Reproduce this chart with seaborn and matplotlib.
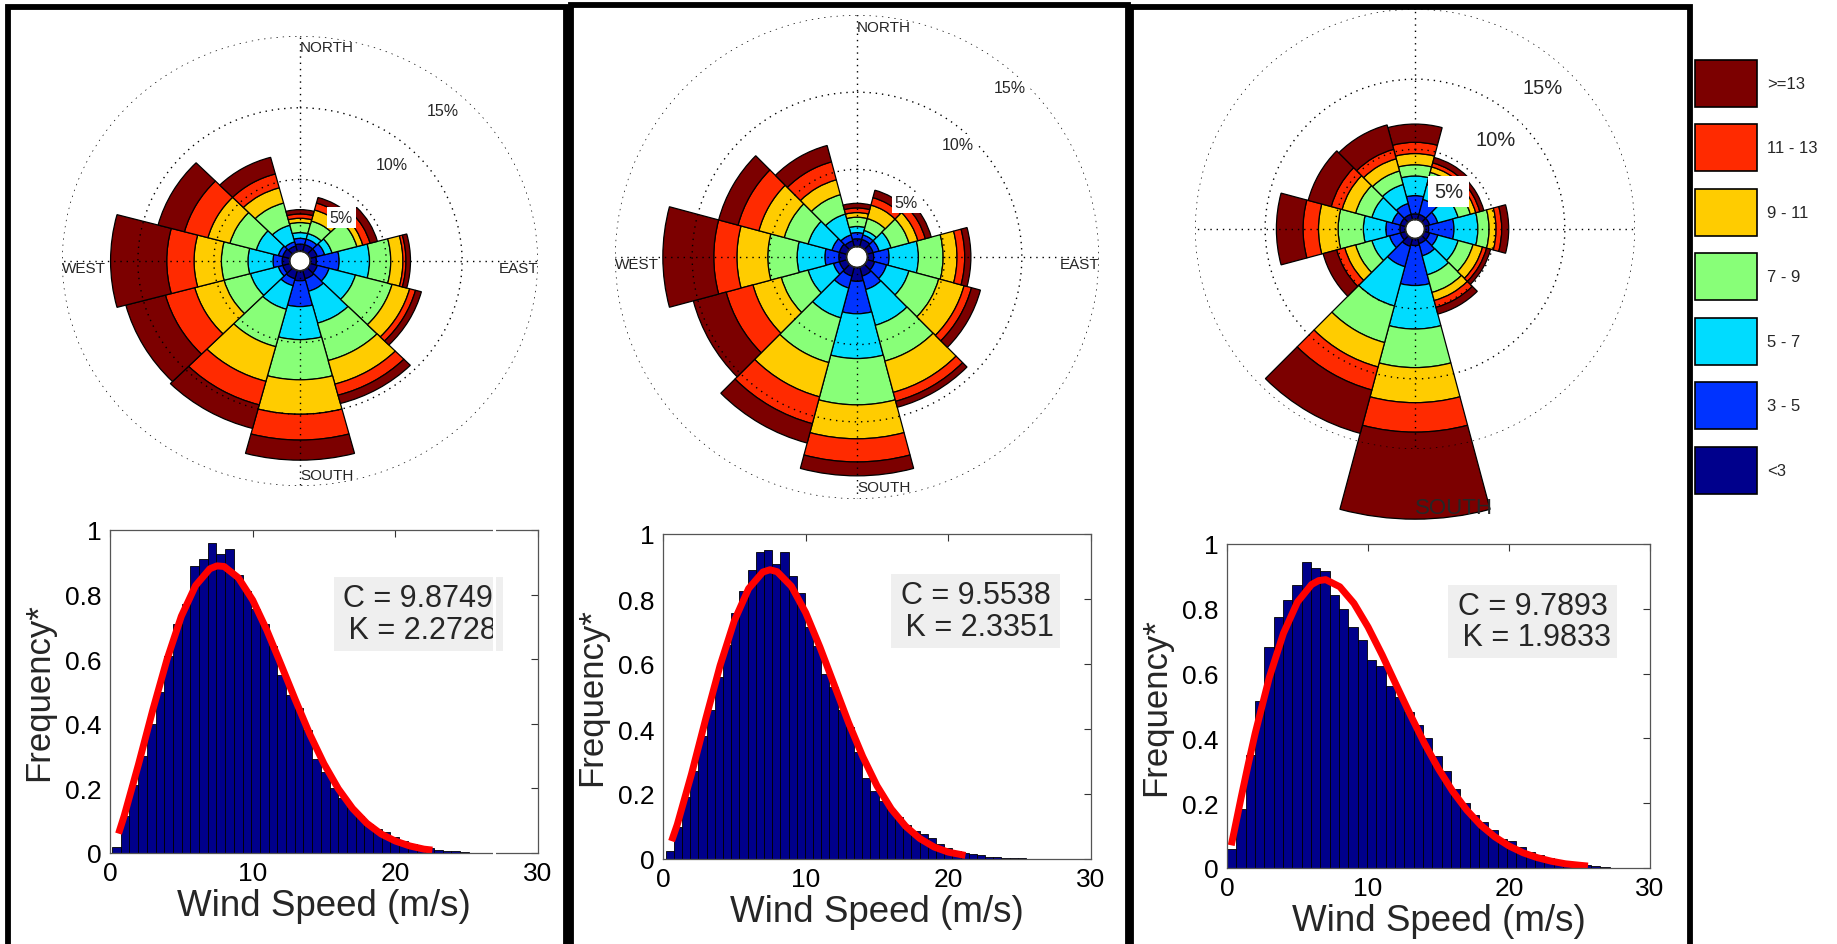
import numpy as np
import pandas as pd
import matplotlib
matplotlib.use("Agg")
import matplotlib.pyplot as plt
from matplotlib.patches import Patch, Rectangle
from matplotlib.lines import Line2D
import seaborn as sns

W, H = 1837, 945

# --- wind rose data: 12 sectors (deg from north, clockwise), % per speed class ---
directions = [0, 30, 60, 90, 120, 150, 180, 210, 240, 270, 300, 330]
speed_classes = ["<3", "3 - 5", "5 - 7", "7 - 9", "9 - 11", "11 - 13", ">=13"]
class_colors = ["#00008c", "#0033ff", "#00dcff", "#88ff78", "#ffcc00", "#ff2a00", "#7c0000"]

rose1_freq = [
    [0.5, 0.4, 0.4, 0.7, 0.3, 0.3, 0.3],
    [0.5, 0.4, 0.4, 0.9, 0.8, 0.5, 0.4],
    [0.5, 0.5, 0.5, 1.7, 0.4, 0.5, 0.5],
    [0.4, 1.5, 2.0, 1.4, 0.8, 0.2, 0.3],
    [0.5, 0.8, 1.8, 2.5, 1.2, 0.4, 0.4],
    [0.6, 0.9, 2.3, 2.7, 1.7, 0.8, 0.6],
    [0.7, 1.8, 2.3, 2.8, 2.4, 1.8, 1.4],
    [0.6, 0.5, 1.7, 2.7, 2.5, 1.7, 1.7],
    [0.5, 0.3, 1.9, 1.8, 2.0, 2.0, 2.7],
    [0.5, 0.6, 1.65, 1.75, 1.8, 1.8, 3.7],
    [0.5, 0.3, 1.5, 1.8, 1.5, 1.6, 1.8],
    [0.4, 0.3, 1.2, 1.6, 1.1, 1.0, 1.2],
]
rose2_freq = [
    [0.5, 0.4, 0.4, 0.6, 0.3, 0.3, 0.3],
    [0.5, 0.3, 0.3, 0.8, 0.9, 0.5, 0.5],
    [0.4, 0.4, 0.8, 1.2, 0.6, 0.5, 0.4],
    [0.4, 1.0, 1.9, 1.6, 0.9, 0.5, 0.4],
    [0.5, 0.8, 1.5, 2.0, 1.7, 0.5, 0.6],
    [0.6, 0.9, 2.4, 2.4, 2.1, 0.6, 0.4],
    [0.9, 2.1, 2.9, 3.0, 2.2, 1.5, 0.9],
    [0.6, 0.8, 2.0, 3.0, 2.3, 1.8, 1.3],
    [0.5, 0.4, 1.7, 1.8, 1.9, 1.8, 2.2],
    [0.5, 0.9, 1.8, 1.9, 2.0, 1.5, 3.3],
    [0.5, 0.5, 1.6, 1.6, 1.7, 1.4, 1.3],
    [0.4, 0.4, 1.4, 1.3, 1.0, 1.2, 1.1],
]
rose3_freq = [
    [0.4, 1.3, 1.4, 0.8, 0.8, 0.8, 1.3],
    [0.4, 1.1, 1.1, 0.9, 0.4, 0.3, 0.4],
    [0.4, 0.6, 1.5, 0.9, 0.4, 0.3, 0.3],
    [0.3, 1.8, 1.7, 0.8, 0.5, 0.4, 0.5],
    [0.4, 0.6, 1.5, 1.1, 0.7, 0.3, 0.3],
    [0.4, 0.9, 1.4, 1.3, 0.6, 0.5, 0.5],
    [0.5, 2.85, 3.1, 2.75, 2.5, 2.1, 6.2],
    [0.6, 1.5, 2.9, 2.7, 1.8, 1.7, 3.2],
    [0.4, 0.8, 1.3, 1.2, 0.8, 0.6, 1.0],
    [0.4, 1.0, 1.6, 1.8, 1.4, 1.1, 1.9],
    [0.4, 0.6, 1.5, 1.2, 1.0, 0.8, 1.7],
    [0.4, 0.8, 1.4, 1.0, 0.9, 0.7, 1.8],
]

# --- histogram data (normalised frequency per bin) ---
hist1_start, hist1_width = 0.14, 0.61
hist1_heights = [0.02, 0.115, 0.21, 0.30, 0.40, 0.50, 0.61, 0.71, 0.77, 0.89,
                 0.91, 0.96, 0.925, 0.94, 0.86, 0.81, 0.755, 0.71, 0.64, 0.55,
                 0.49, 0.45, 0.38, 0.29, 0.25, 0.20, 0.17, 0.14, 0.115, 0.09,
                 0.075, 0.065, 0.05, 0.038, 0.028, 0.02, 0.014, 0.01, 0.005, 0.006,
                 0.003]
hist2_start, hist2_width = 0.19, 0.574
hist2_heights = [0.024, 0.10, 0.19, 0.27, 0.38, 0.46, 0.56, 0.66, 0.756, 0.826,
                 0.89, 0.944, 0.952, 0.907, 0.944, 0.872, 0.82, 0.713, 0.656, 0.57,
                 0.53, 0.46, 0.405, 0.33, 0.25, 0.21, 0.18, 0.155, 0.13, 0.105,
                 0.085, 0.077, 0.064, 0.045, 0.035, 0.026, 0.02, 0.015, 0.012, 0.007,
                 0.006, 0.004, 0.002, 0.002, 0.0015, 0.0015, 0.001, 0.001, 0.001, 0.001]
hist3_start, hist3_width = 0.0, 0.662
hist3_heights = [0.06, 0.183, 0.35, 0.514, 0.681, 0.776, 0.827, 0.874, 0.943, 0.925,
                 0.918, 0.843, 0.80, 0.745, 0.705, 0.642, 0.625, 0.561, 0.527, 0.481,
                 0.44, 0.40, 0.345, 0.30, 0.245, 0.20, 0.165, 0.143, 0.117, 0.09,
                 0.083, 0.065, 0.05, 0.04, 0.03, 0.022, 0.016, 0.012, 0.008, 0.005,
                 0.003]

# weibull fit curves
fit1_x = [0.6, 1, 2, 3, 4, 5, 6, 7, 7.5, 8, 9, 10, 11, 12, 13, 14, 15, 16, 17, 18, 19, 20, 21, 22, 22.6]
fit1_y = [0.06, 0.116, 0.275, 0.443, 0.600, 0.733, 0.828, 0.880, 0.889, 0.887, 0.852, 0.783,
          0.689, 0.582, 0.473, 0.368, 0.276, 0.199, 0.138, 0.092, 0.059, 0.037, 0.022, 0.012, 0.009]
fit2_x = [0.6, 1, 2, 3, 4, 5, 6, 7, 7.5, 8, 9, 10, 11, 12, 13, 14, 15, 16, 17, 18, 19, 20, 21.2]
fit2_y = [0.055, 0.106, 0.262, 0.432, 0.595, 0.733, 0.832, 0.883, 0.890, 0.884, 0.839, 0.758,
          0.652, 0.536, 0.420, 0.315, 0.225, 0.154, 0.101, 0.063, 0.037, 0.021, 0.011]
fit3_x = [0.3, 0.5, 1, 1.5, 2, 3, 4, 5, 6, 6.5, 7, 8, 9, 10, 11, 12, 13, 14, 15, 16, 17,
          18, 19, 20, 21, 22, 23, 24, 25, 25.6]
fit3_y = [0.07, 0.111, 0.217, 0.319, 0.416, 0.588, 0.724, 0.821, 0.875, 0.887, 0.890, 0.868,
          0.817, 0.744, 0.658, 0.565, 0.473, 0.385, 0.306, 0.237, 0.179, 0.132, 0.096, 0.068,
          0.047, 0.032, 0.021, 0.013, 0.0085, 0.006]
fit_labels = ["C = 9.8749\n K = 2.2728", "C = 9.5538\n K = 2.3351", "C = 9.7893\n K = 1.9833"]

sns.set_theme(style="white")
plt.rcParams["font.family"] = ["Liberation Sans", "DejaVu Sans"]

fig = plt.figure(figsize=(W / 100, H / 100), dpi=100)


def px_rect(left, top, w, h):
    return [left / W, (H - top - h) / H, w / W, h / H]


def draw_rose(rect, freq, lab_off, pct_size, cardinals=True, south_r=None, lab_pad=0.18):
    ax = fig.add_axes(rect, projection="polar")
    ax.set_theta_zero_location("N")
    ax.set_theta_direction(-1)
    freq = np.array(freq)
    theta = np.deg2rad(directions)
    bottom = np.zeros(len(directions))
    for j, col in enumerate(class_colors):
        ax.bar(theta, freq[:, j], width=np.deg2rad(30), bottom=bottom, color=col,
               edgecolor="black", linewidth=0.9, clip_on=False, zorder=1)
        bottom += freq[:, j]
    ax.set_ylim(0, 15)
    ax.set_rorigin(-0.68)
    ax.set_aspect("auto")
    ax.set_xticks(np.deg2rad([0, 90, 180, 270]))
    ax.set_xticklabels([])
    ax.set_yticks([5, 10, 15])
    ax.set_yticklabels([])
    ax.grid(True, color="black", linestyle=(0, (1, 3.5)), linewidth=1.0)
    ax.set_axisbelow(False)
    for s in ax.spines.values():
        s.set_visible(False)
    ax.set_facecolor("none")
    for rr in (5, 10, 15):
        ax.text(np.deg2rad(42), rr + lab_off, f"{rr}%", fontsize=pct_size, ha="center",
                va="center", zorder=5,
                bbox=dict(boxstyle=f"square,pad={lab_pad}", fc="white", ec="none"))
    if cardinals:
        ax.text(0, 14.7, "NORTH", fontsize=11, ha="left", va="top", zorder=5)
        ax.text(np.pi, 14.7, "SOUTH", fontsize=11, ha="left", va="bottom", zorder=5)
        ax.text(np.pi / 2, 15, "EAST", fontsize=11, ha="right", va="top", zorder=5)
        ax.text(3 * np.pi / 2, 15, "WEST", fontsize=11, ha="left", va="top", zorder=5)
    if south_r is not None:
        ax.text(np.pi, south_r, "SOUTH", fontsize=16, ha="left", va="center", zorder=5)
    return ax


draw_rose(px_rect(62, 37, 476, 450), rose1_freq, -1.6, 11.5)
draw_rose(px_rect(615, 16, 484, 484), rose2_freq, -0.9, 11.5)
draw_rose(px_rect(1195, 10, 440, 440), rose3_freq, -2.1, 14.5, cardinals=False,
          south_r=19.2, lab_pad=0.3)


def draw_hist(rect, start, width, heights, fx, fy, label, box_xy):
    ax = fig.add_axes(rect)
    n = len(heights)
    df = pd.DataFrame({"speed": start + width * (np.arange(n) + 0.5), "freq": heights})
    sns.histplot(data=df, x="speed", weights="freq", binwidth=width,
                 binrange=(start, start + width * n), color="#00008b", edgecolor="black",
                 linewidth=0.6, alpha=1, ax=ax)
    fit = pd.DataFrame({"x": fx, "y": fy})
    sns.lineplot(data=fit, x="x", y="y", color="red", linewidth=5, solid_capstyle="butt", ax=ax)
    ax.set_xlim(0, 30)
    ax.set_ylim(0, 1)
    ax.set_xticks([0, 10, 20, 30])
    ax.set_yticks([0, 0.2, 0.4, 0.6, 0.8, 1])
    ax.set_yticklabels(["0", "0.2", "0.4", "0.6", "0.8", "1"])
    ax.tick_params(direction="in", length=5, width=0.8, top=True, right=True,
                   labelsize=19, pad=6, colors="#333333", labelcolor="black")
    for s in ax.spines.values():
        s.set_color("#555555")
        s.set_linewidth(0.9)
    ax.set_xlabel("Wind Speed (m/s)", fontsize=26.5, labelpad=2)
    ax.set_ylabel("Frequency*", fontsize=25, labelpad=7)
    ax.text(box_xy[0], box_xy[1], label, transform=ax.transAxes, fontsize=22,
            ha="center", va="center", linespacing=1.05,
            bbox=dict(boxstyle="square,pad=0.2", fc="#efefef", ec="none"))
    return ax


draw_hist(px_rect(110, 531, 428, 323), hist1_start, hist1_width, hist1_heights,
          fit1_x, fit1_y, fit_labels[0], (0.72, 0.74))
draw_hist(px_rect(663, 535, 428, 325), hist2_start, hist2_width, hist2_heights,
          fit2_x, fit2_y, fit_labels[1], (0.73, 0.763))
draw_hist(px_rect(1227, 545, 423, 324), hist3_start, hist3_width, hist3_heights,
          fit3_x, fit3_y, fit_labels[2], (0.723, 0.76))

# white seam running through the first histogram in the original image
fig.add_artist(Line2D([494 / W, 494 / W], [1 - 522 / H, 1 - 862 / H], color="white",
                      linewidth=2.2, transform=fig.transFigure))

# legend for speed classes (top to bottom: strongest first)
handles = [Patch(facecolor=c, edgecolor="black", linewidth=1.2) for c in class_colors[::-1]]
fig.legend(handles, speed_classes[::-1], loc="upper left",
           bbox_to_anchor=(1695 / W, 1 - 61 / H), frameon=False, fontsize=12,
           handlelength=3.72, handleheight=3.96, labelspacing=1.05, handletextpad=0.6,
           borderpad=0, borderaxespad=0)

# thick panel frames
for x0, x1, y0 in [(8, 566, 8), (571, 1128, 6), (1131, 1690, 8)]:
    fig.add_artist(Rectangle((x0 / W, -0.1), (x1 - x0) / W, 1.1 - y0 / H,
                             transform=fig.transFigure, fill=False, edgecolor="black",
                             linewidth=4.2, clip_on=False))

fig.savefig("out.png", dpi=100)
